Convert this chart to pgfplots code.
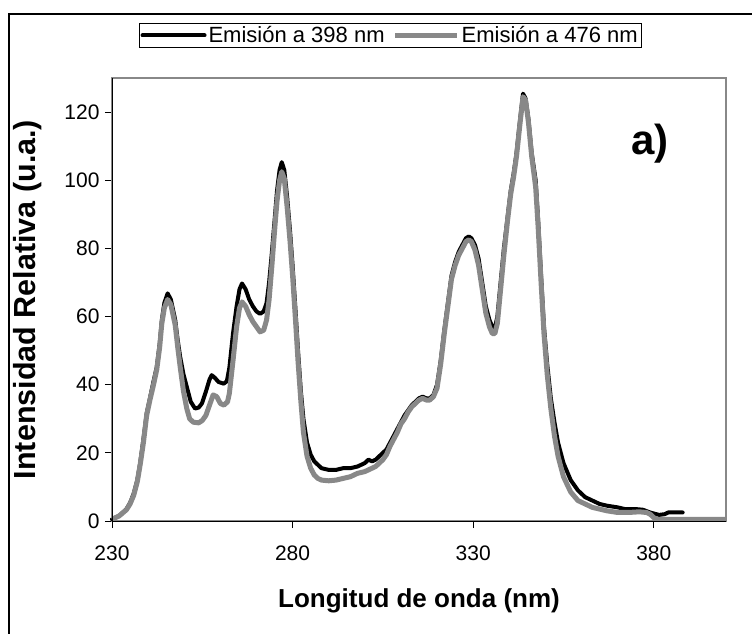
\documentclass[border=0pt]{standalone}
\usepackage{fontspec}
\setmainfont{Liberation Sans}
\usepackage{pgfplots}
\pgfplotsset{compat=1.18}
\definecolor{sgray}{RGB}{136,136,136}
\begin{document}
\begin{tikzpicture}
\useasboundingbox (-112pt,-112pt) rectangle (640pt,521pt);
\draw[line width=1.8pt] (-103pt,-300pt) rectangle (900pt,507pt);
\begin{axis}[
  scale only axis, width=614pt, height=443pt,
  xmin=230, xmax=400, ymin=0, ymax=130,
  xtick={230,280,330,380}, ytick={0,20,...,120},
  axis line style={draw=sgray, line width=1.2pt},
  xtick pos=bottom, ytick pos=left,
  tick align=outside, major tick length=7pt,
  tick style={black, line width=0.8pt},
  /pgf/number format/assume math mode=true,
  xticklabel style={font=\fontsize{21}{25}\selectfont, yshift=-14pt},
  yticklabel style={font=\fontsize{21}{25}\selectfont, xshift=-2pt},
  xlabel={Longitud de onda (nm)},
  ylabel={Intensidad Relativa (u.a.)},
  xlabel style={font=\bfseries\fontsize{26}{30}\selectfont, at={(axis description cs:0.5,0)}, anchor=base, yshift=-86pt},
  ylabel style={font=\bfseries\fontsize{30.5}{34}\selectfont, at={(axis description cs:-0.138,0.5)}, anchor=center},
  legend columns=2,
  legend style={at={(axis description cs:0.453,1.096)}, anchor=center, draw=black, line width=0.8pt,
    font=\fontsize{22}{25}\selectfont, inner sep=1.5pt,
    /tikz/every even column/.append style={column sep=6pt}},
  legend image code/.code={\draw[#1] (0pt,0pt) -- (62pt,0pt);},
  clip=false,
]
\addplot[black, line width=4pt, line join=round, line cap=round] coordinates {
(230,0.5) (232,1.5) (234,3.5) (235,5.3) (236,8) (237,12) (237.8,17) (238.7,24) (239.6,31.6)
(240.5,36) (241.5,41) (242.4,45.2) (243.2,52) (243.8,59) (244.5,64) (245.4,66.8) (246.3,65)
(247.5,59) (248.2,53) (248.9,48) (249.8,43) (250.7,39.4) (251.8,35) (253,33) (254,33.3)
(254.9,34.5) (256,38) (257,41.5) (257.6,42.8) (258.5,42) (259.5,40.8) (260.9,40.3) (261.8,41)
(262.5,45) (263.5,55) (264.5,63) (265.3,68) (266,69.7) (267,68) (268,65) (269,63) (270,61.5)
(271,60.8) (272,61.5) (272.8,64) (273.5,70) (274.2,78) (275,88) (275.7,97) (276.4,103)
(277,105.3) (277.7,103) (278.5,95) (279.3,85) (280,75) (280.8,62) (281.5,50) (282.3,38)
(283,30) (284,23) (285,19.5) (286,17.5) (287,16.5) (288,15.5) (290,15) (292,15) (294,15.5)
(296,15.5) (298,16) (300,17) (301,18) (302,17.5) (303,18) (304,19) (305,20) (306,21) (307,23)
(308,25) (309,27) (310,29) (311,31) (312,32.5) (313,34) (314,35) (315,36) (316,36.5) (317,36)
(318,36) (319,37) (320,40) (321,47) (322,56) (323,64) (324,72) (325,76) (326,79) (327,81)
(328,83) (328.8,83.5) (329.5,83) (330.5,81) (331.5,77) (332.5,70) (333.5,63) (334.5,59)
(335.3,57) (336,56.5) (336.7,60) (337.6,70) (338.5,80) (339.5,89) (340.4,97) (341.2,102)
(342,108) (342.8,116) (343.8,125.4) (344.5,124) (345.3,118) (346.2,108) (347.3,100) (348,88)
(348.8,72) (349.6,57) (350.5,46) (351.5,36) (352.5,29) (353.5,23) (355,17) (357,12) (359,9)
(361,7) (363,6) (365,5) (367,4.5) (370,4) (372,3.5) (375,3.5) (377,3.3) (379,2.5) (380,2.2)
(381.5,1.8) (383,2) (384,2.5) (386,2.5) (388,2.5)
};
\addlegendentry{Emisión a 398 nm}
\addplot[sgray, line width=5pt, line join=round] coordinates {
(230,0.5) (232,1.5) (234,3.3) (235,5) (236,7.5) (237,11.5) (237.8,16.5) (238.7,23) (239.6,31)
(240.5,35.5) (241.5,40) (242.4,44.5) (243.2,51) (243.8,58) (244.5,62.5) (245.4,65) (246.3,63.5)
(247.5,57.5) (248.2,51) (248.9,45) (249.8,38) (250.7,33) (251.5,30) (252.5,29) (254,28.8)
(255,29.5) (256,31) (257,34) (258,37) (259,36.5) (260,34.5) (261,34) (262,35) (262.5,37.5)
(263.5,47) (264.5,57) (265.3,62.5) (266,64.3) (267,63) (268,60.5) (269,58.5) (270,57)
(271,55.5) (272,56) (272.8,59) (273.5,65) (274.2,74) (275,85) (275.7,94) (276.4,100)
(277,102.5) (277.7,100.5) (278.5,92) (279.3,82) (280,72) (280.8,59) (281.5,47) (282.3,35)
(283,26) (284,19) (285,15.5) (286,13.5) (287,12.5) (288,12) (290,11.8) (292,12) (294,12.5)
(296,13) (298,14) (300,14.5) (302,15.5) (303,16) (304,17) (305,18) (306,19.5) (307,22) (308,24)
(309,26) (310,28.5) (311,30) (312,32) (313,33.5) (314,34.5) (315,35.5) (316,36) (317,35.5)
(318,35.5) (319,36.5) (320,39) (321,46) (322,55) (323,63) (324,71) (325,75) (326,78) (327,80)
(328,82) (328.8,82.5) (329.5,82) (330.5,79.5) (331.5,75) (332.5,68) (333.5,61) (334.5,57)
(335.3,55) (336,55) (336.7,58) (337.6,68) (338.5,78) (339.5,88) (340.4,96) (341.2,101)
(342,107) (342.8,115) (343.8,124.5) (344.5,123.5) (345.3,117) (346.2,107) (347.3,98) (348,86)
(348.8,70) (349.6,55) (350.5,43) (351.5,33) (352.5,25) (353.5,19) (355,13) (357,8.5) (359,6)
(361,5) (363,4) (365,3.5) (367,3) (370,2.5) (373,2.5) (376,2.7) (378,2.5) (379,2) (380,1)
(381,0.5) (400,0.5)
};
\addlegendentry{Emisión a 476 nm}
\draw[black, line width=0.9pt] (rel axis cs:0,1) -- (rel axis cs:0,0) -- (rel axis cs:1,0);
\node[font=\bfseries\fontsize{42}{48}\selectfont] at (axis cs:379,110.8) {a)};
\end{axis}
\end{tikzpicture}
\end{document}
